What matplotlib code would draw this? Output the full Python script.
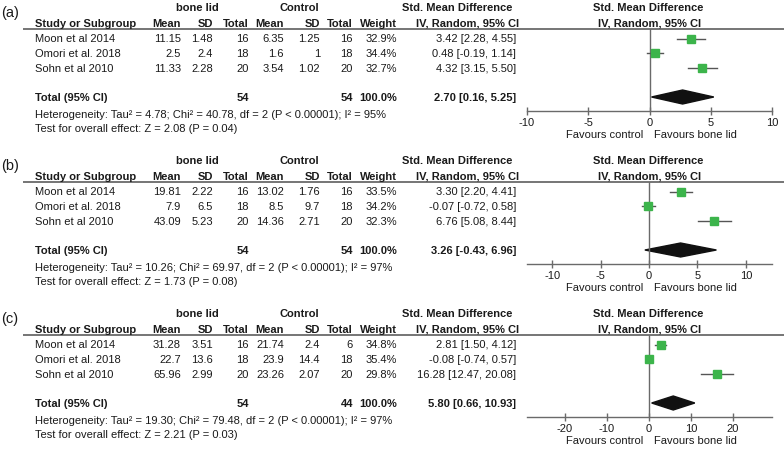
import matplotlib.pyplot as plt
from matplotlib.patches import Polygon

plt.rcParams['font.family'] = ['Liberation Sans', 'DejaVu Sans']
plt.rcParams['axes.unicode_minus'] = False

studies = ['Moon et al 2014', 'Omori et al. 2018', 'Sohn et al 2010']
panel_names = ['(a)', '(b)', '(c)']

# bone lid / control raw data per panel
bone_mean = [[11.15, 2.5, 11.33], [19.81, 7.9, 43.09], [31.28, 22.7, 65.96]]
bone_sd = [[1.48, 2.4, 2.28], [2.22, 6.5, 5.23], [3.51, 13.6, 2.99]]
bone_n = [[16, 18, 20], [16, 18, 20], [16, 18, 20]]
ctrl_mean = [[6.35, 1.6, 3.54], [13.02, 8.5, 14.36], [21.74, 23.9, 23.26]]
ctrl_sd = [[1.25, 1, 1.02], [1.76, 9.7, 2.71], [2.4, 14.4, 2.07]]
ctrl_n = [[16, 18, 20], [16, 18, 20], [6, 18, 20]]
weights = [[32.9, 34.4, 32.7], [33.5, 34.2, 32.3], [34.8, 35.4, 29.8]]

# std. mean difference and 95% CI
smd = [[3.42, 0.48, 4.32], [3.30, -0.07, 6.76], [2.81, -0.08, 16.28]]
ci_lo = [[2.28, -0.19, 3.15], [2.20, -0.72, 5.08], [1.50, -0.74, 12.47]]
ci_hi = [[4.55, 1.14, 5.50], [4.41, 0.58, 8.44], [4.12, 0.57, 20.08]]
total_smd = [2.70, 3.26, 5.80]
total_lo = [0.16, -0.43, 0.66]
total_hi = [5.25, 6.96, 10.93]
total_bone = [54, 54, 54]
total_ctrl = [54, 54, 44]
tau2 = ['4.78', '10.26', '19.30']
chi2 = ['40.78', '69.97', '79.48']
i2 = [95, 97, 97]
z_val = ['2.08', '1.73', '2.21']
p_val = ['0.04', '0.08', '0.03']

xlims = [(-10, 10), (-12.6, 12.7), (-29, 29.3)]
xticks = [[-10, -5, 0, 5, 10], [-10, -5, 0, 5, 10], [-20, -10, 0, 10, 20]]

W, H = 784, 456
fig = plt.figure(figsize=(W / 100, H / 100), dpi=100)
bg = fig.add_axes([0, 0, 1, 1])
bg.set_xlim(0, W)
bg.set_ylim(H, 0)
bg.axis('off')

fs = 8
tc = '#1a1a1a'
lc = '#6a6a6a'
green = '#3cb44b'

def fmt(v):
    return f'{v:g}'

rules = [30, 183, 336]
cols = [181, 213, 249, 284, 320, 353, 397]
for p in range(3):
    r = rules[p]
    bg.text(1, r - 17, panel_names[p], fontsize=10.5, color=tc, va='center', ha='left')
    # group headers
    bg.text(197, r - 22, 'bone lid', fontsize=fs, weight='bold', color=tc, ha='center', va='center')
    bg.text(299, r - 22, 'Control', fontsize=fs, weight='bold', color=tc, ha='center', va='center')
    bg.text(457, r - 22, 'Std. Mean Difference', fontsize=fs, weight='bold', color=tc, ha='center', va='center')
    bg.text(648, r - 22, 'Std. Mean Difference', fontsize=fs, weight='bold', color=tc, ha='center', va='center')
    hy = r - 6
    bg.text(35, hy, 'Study or Subgroup', fontsize=fs, weight='bold', color=tc, ha='left', va='center')
    for x, s in zip(cols, ['Mean', 'SD', 'Total', 'Mean', 'SD', 'Total', 'Weight']):
        bg.text(x, hy, s, fontsize=fs, weight='bold', color=tc, ha='right', va='center')
    bg.text(468, hy, 'IV, Random, 95% CI', fontsize=fs, weight='bold', color=tc, ha='center', va='center')
    bg.text(650, hy, 'IV, Random, 95% CI', fontsize=fs, weight='bold', color=tc, ha='center', va='center')
    bg.plot([23, 784], [r, r], color=lc, lw=1.3, solid_capstyle='butt')

    row_y = [r + 9.5, r + 24, r + 39]
    for i in range(3):
        y = row_y[i]
        bg.text(35, y, studies[i], fontsize=fs, color=tc, ha='left', va='center')
        vals = [fmt(bone_mean[p][i]), fmt(bone_sd[p][i]), str(bone_n[p][i]),
                fmt(ctrl_mean[p][i]), fmt(ctrl_sd[p][i]), str(ctrl_n[p][i]),
                f'{weights[p][i]:.1f}%']
        for x, s in zip(cols, vals):
            bg.text(x, y, s, fontsize=fs, color=tc, ha='right', va='center')
        bg.text(516, y, f'{smd[p][i]:.2f} [{ci_lo[p][i]:.2f}, {ci_hi[p][i]:.2f}]',
                fontsize=fs, color=tc, ha='right', va='center')
    ty = r + 68
    bg.text(35, ty, 'Total (95% CI)', fontsize=fs, weight='bold', color=tc, ha='left', va='center')
    bg.text(249, ty, str(total_bone[p]), fontsize=fs, weight='bold', color=tc, ha='right', va='center')
    bg.text(353, ty, str(total_ctrl[p]), fontsize=fs, weight='bold', color=tc, ha='right', va='center')
    bg.text(397, ty, '100.0%', fontsize=fs, weight='bold', color=tc, ha='right', va='center')
    bg.text(516, ty, f'{total_smd[p]:.2f} [{total_lo[p]:.2f}, {total_hi[p]:.2f}]',
            fontsize=fs, weight='bold', color=tc, ha='right', va='center')
    bg.text(35, r + 85, f'Heterogeneity: Tau² = {tau2[p]}; Chi² = {chi2[p]}, df = 2 (P < 0.00001); I² = {i2[p]}%',
            fontsize=fs, color=tc, ha='left', va='center')
    bg.text(35, r + 99, f'Test for overall effect: Z = {z_val[p]} (P = {p_val[p]})',
            fontsize=fs, color=tc, ha='left', va='center')
    bg.text(643, r + 105, 'Favours control', fontsize=fs, color=tc, ha='right', va='center')
    bg.text(654, r + 105, 'Favours bone lid', fontsize=fs, color=tc, ha='left', va='center')

    # forest plot axes in pixel rows
    ax_y = r + 82
    ax = fig.add_axes([527 / W, 1 - ax_y / H, (772 - 527) / W, (ax_y - r) / H])
    ax.patch.set_alpha(0)
    ax.set_ylim(ax_y, r)
    ax.set_xlim(*xlims[p])
    ax.set_xticks(xticks[p])
    for s in ['top', 'left', 'right']:
        ax.spines[s].set_visible(False)
    ax.spines['bottom'].set_color(lc)
    ax.spines['bottom'].set_linewidth(1.0)
    ax.set_yticks([])
    ax.tick_params(axis='x', direction='inout', length=6, width=1.0, color=lc,
                   pad=1.2, labelsize=fs, labelcolor=tc)
    ax.axvline(0, color=lc, lw=1.0)
    for i in range(3):
        ax.plot([ci_lo[p][i], ci_hi[p][i]], [row_y[i], row_y[i]], color='#555555', lw=1.0)
        ax.plot(smd[p][i], row_y[i], 's', color=green, ms=5.4, mec=green)
    ax.add_patch(Polygon([(total_lo[p], ty), (total_smd[p], ty - 7),
                          (total_hi[p], ty), (total_smd[p], ty + 7)],
                         closed=True, color='#111111'))

fig.savefig('out.png', dpi=100)
